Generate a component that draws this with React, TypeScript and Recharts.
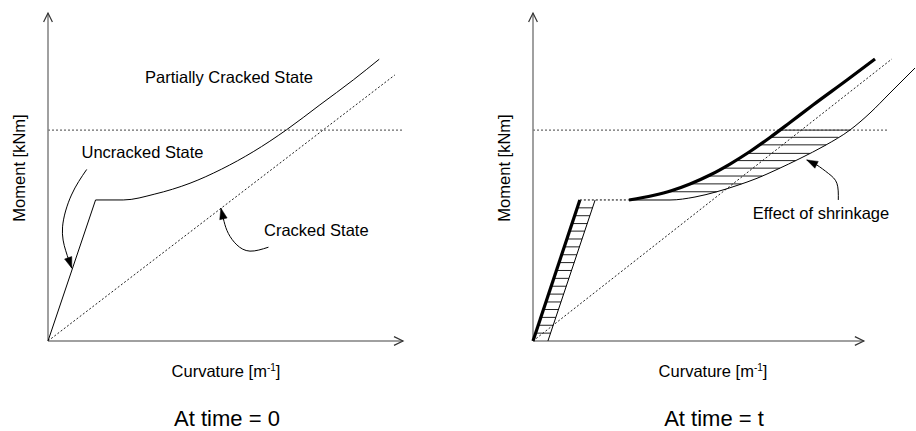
import React from 'react';
import { ComposedChart, Line, XAxis, YAxis } from 'recharts';

type P = { x: number; y: number };

// ---------- Left panel: At time = 0 ----------
const leftYAxisLine: P[] = [{ x: 0, y: 0 }, { x: 0, y: 100 }];
const leftXAxisLine: P[] = [{ x: 0, y: 0 }, { x: 100, y: 0 }];
const leftCrackingMoment: P[] = [{ x: 0, y: 64.3 }, { x: 100, y: 64.3 }];
const leftCracked: P[] = [{ x: 0, y: 0 }, { x: 97.7, y: 81.1 }];
const leftUncracked: P[] = [{ x: 0, y: 0 }, { x: 13.4, y: 43.0 }];
const leftPartiallyCracked: P[] = [
  { x: 13.4, y: 43.0 }, { x: 21.2, y: 43.0 }, { x: 30.1, y: 44.8 }, { x: 40.0, y: 48.1 },
  { x: 48.9, y: 52.4 }, { x: 57.8, y: 57.7 }, { x: 67.2, y: 64.4 }, { x: 76.6, y: 72.0 },
  { x: 86.0, y: 79.6 }, { x: 93.3, y: 85.9 },
];
const leftUncrackedArrow: P[] = [
  { x: 10.9, y: 52.3 }, { x: 6.6, y: 44.5 }, { x: 4.1, y: 34.8 }, { x: 5.0, y: 27.5 }, { x: 6.7, y: 22.2 },
];
const leftCrackedArrow: P[] = [
  { x: 62.1, y: 28.6 }, { x: 56.9, y: 27.4 }, { x: 53.2, y: 29.3 }, { x: 50.8, y: 32.8 },
  { x: 49.6, y: 36.4 }, { x: 48.7, y: 40.5 },
];

// ---------- Right panel: At time = t ----------
const rightYAxisLine: P[] = [{ x: 0, y: 0 }, { x: 0, y: 100 }];
const rightXAxisLine: P[] = [{ x: 0, y: 0 }, { x: 93.2, y: 0 }];
const rightCrackingMoment: P[] = [{ x: 0, y: 64.3 }, { x: 100, y: 64.3 }];
const rightCracked: P[] = [{ x: 0, y: 0 }, { x: 101.1, y: 86.0 }];
const rightUncrackedShrink: P[] = [{ x: 0, y: 0 }, { x: 13.2, y: 43.0 }];
const rightUncrackedNoShrink: P[] = [{ x: 4.2, y: 0 }, { x: 17.5, y: 43.0 }];
const rightCrackingLink: P[] = [{ x: 13.2, y: 43.0 }, { x: 27.0, y: 43.0 }];
const rightPartialShrink: P[] = [
  { x: 27.04, y: 42.99 }, { x: 33.8, y: 44.36 }, { x: 39.15, y: 45.88 }, { x: 44.23, y: 47.87 },
  { x: 49.86, y: 50.61 }, { x: 55.49, y: 53.96 }, { x: 61.13, y: 57.77 }, { x: 66.76, y: 62.04 },
  { x: 72.39, y: 66.62 }, { x: 78.87, y: 71.95 }, { x: 88.45, y: 79.57 }, { x: 96.34, y: 85.98 },
];
const rightPartialNoShrink: P[] = [
  { x: 27.04, y: 42.99 }, { x: 38.59, y: 42.99 }, { x: 45.63, y: 43.9 }, { x: 51.83, y: 45.52 },
  { x: 57.46, y: 47.41 }, { x: 63.1, y: 49.6 }, { x: 68.73, y: 52.29 }, { x: 75.21, y: 55.64 },
  { x: 82.25, y: 59.6 }, { x: 89.3, y: 64.33 }, { x: 94.93, y: 69.51 }, { x: 100.56, y: 75.61 },
  { x: 107.61, y: 83.23 },
];
const rightShrinkArrow: P[] = [
  { x: 86.0, y: 43.0 }, { x: 85.6, y: 48.1 }, { x: 83.2, y: 51.1 }, { x: 79.9, y: 53.7 }, { x: 77.1, y: 55.2 },
];
const lowerHatchLevels: number[] = [
  2.4, 4.8, 7.2, 9.6, 11.9, 14.3, 16.7, 19.1, 21.5, 23.9, 26.3, 28.7, 31.1, 33.5, 35.8, 38.2, 40.6,
];
const upperHatchLevels: number[] = [45.5, 47.9, 50.3, 52.7, 55.0, 57.2, 59.8, 62.1, 64.3];

// ---------- Texts ----------
const yTitle = 'Moment [kNm]';
const xTitleMain = 'Curvature [m';
const xTitleSup = '-1';
const leftCaption = 'At time = 0';
const rightCaption = 'At time = t';
const labelPartial = 'Partially Cracked State';
const labelUncracked = 'Uncracked State';
const labelCracked = 'Cracked State';
const labelShrink = 'Effect of shrinkage';

// ---------- layout ----------
const PANEL_W = 458;
const H = 431;
const PX_PER_X = 3.55;
const MARGIN_L = { top: 13, right: 0, bottom: 90, left: 48 };
const MARGIN_R = { top: 13, right: 0, bottom: 90, left: 75 };
const XMAX_L = (PANEL_W - MARGIN_L.left - MARGIN_L.right) / PX_PER_X;
const XMAX_R = (PANEL_W - MARGIN_R.left - MARGIN_R.right) / PX_PER_X;
const FONT = "'Liberation Sans', Arial, sans-serif";

function xAt(curve: P[], y: number): number {
  for (let i = 0; i < curve.length - 1; i++) {
    const a = curve[i];
    const b = curve[i + 1];
    if ((y >= a.y && y <= b.y) || (y <= a.y && y >= b.y)) {
      if (b.y === a.y) continue;
      return a.x + ((y - a.y) * (b.x - a.x)) / (b.y - a.y);
    }
  }
  return NaN;
}

function tip(kind: 'filled' | 'open', count: number, len: number, half: number, color: string, fallback: [number, number]) {
  return (props: any) => {
    const { index, cx, cy, points } = props;
    const key = `tip-${index}`;
    if (index !== count - 1 || cx == null || cy == null) return <g key={key} />;
    let ux = fallback[0];
    let uy = fallback[1];
    if (points && points.length >= 2) {
      const prev = points[points.length - 2];
      const dx = cx - prev.x;
      const dy = cy - prev.y;
      const d = Math.hypot(dx, dy) || 1;
      ux = dx / d;
      uy = dy / d;
    }
    const bx = cx - ux * len;
    const by = cy - uy * len;
    const px = -uy * half;
    const py = ux * half;
    if (kind === 'filled') {
      return (
        <polygon key={key} points={`${cx},${cy} ${bx + px},${by + py} ${bx - px},${by - py}`} fill={color} stroke={color} strokeWidth={0.5} />
      );
    }
    return (
      <polyline key={key} points={`${bx + px},${by + py} ${cx},${cy} ${bx - px},${by - py}`} fill="none" stroke={color} strokeWidth={1.2} />
    );
  };
}

const common = { dataKey: 'y', isAnimationActive: false, activeDot: false as const, legendType: 'none' as const };

function hatchLines(levels: number[], leftCurve: P[], rightCurve: P[], prefix: string) {
  return levels.map((lv) => {
    const xl = xAt(leftCurve, lv);
    const xr = xAt(rightCurve, lv);
    const seg: P[] = [{ x: xl, y: lv }, { x: xr, y: lv }];
    return (
      <Line key={`${prefix}-${lv}`} {...common} data={seg} type="linear" stroke="#222" strokeWidth={1} dot={false} />
    );
  });
}

function LeftChart() {
  return (
    <ComposedChart width={PANEL_W} height={H} margin={MARGIN_L}>
      <XAxis dataKey="x" type="number" domain={[0, XMAX_L]} hide />
      <YAxis type="number" domain={[0, 100]} hide />
      <Line {...common} data={leftCrackingMoment} type="linear" stroke="#444" strokeWidth={1} strokeDasharray="2 2" dot={false} />
      <Line {...common} data={leftCracked} type="linear" stroke="#222" strokeWidth={1} strokeDasharray="2 2" dot={false} />
      <Line {...common} data={leftYAxisLine} type="linear" stroke="#808080" strokeWidth={1.5}
        dot={tip('open', leftYAxisLine.length, 9, 4.4, '#333', [0, -1])} />
      <Line {...common} data={leftXAxisLine} type="linear" stroke="#808080" strokeWidth={1.5}
        dot={tip('open', leftXAxisLine.length, 9, 4.4, '#333', [1, 0])} />
      <Line {...common} data={leftUncracked} type="linear" stroke="#000" strokeWidth={1} dot={false} />
      <Line {...common} data={leftPartiallyCracked} type="monotone" stroke="#000" strokeWidth={1} dot={false} />
      <Line {...common} data={leftUncrackedArrow} type="natural" stroke="#000" strokeWidth={1}
        dot={tip('filled', leftUncrackedArrow.length, 11, 3.8, '#000', [0.3, 1])} />
      <Line {...common} data={leftCrackedArrow} type="natural" stroke="#000" strokeWidth={1}
        dot={tip('filled', leftCrackedArrow.length, 11, 3.8, '#000', [-0.1, -1])} />
    </ComposedChart>
  );
}

function RightChart() {
  return (
    <ComposedChart width={PANEL_W} height={H} margin={MARGIN_R}>
      <XAxis dataKey="x" type="number" domain={[0, XMAX_R]} hide />
      <YAxis type="number" domain={[0, 100]} hide />
      {hatchLines(lowerHatchLevels, rightUncrackedShrink, rightUncrackedNoShrink, 'lh')}
      {hatchLines(upperHatchLevels, rightPartialShrink, rightPartialNoShrink, 'uh')}
      <Line {...common} data={rightCrackingMoment} type="linear" stroke="#444" strokeWidth={1} strokeDasharray="2 2" dot={false} />
      <Line {...common} data={rightCracked} type="linear" stroke="#222" strokeWidth={1} strokeDasharray="2 2" dot={false} />
      <Line {...common} data={rightCrackingLink} type="linear" stroke="#000" strokeWidth={1} strokeDasharray="2 2" dot={false} />
      <Line {...common} data={rightYAxisLine} type="linear" stroke="#808080" strokeWidth={1.5}
        dot={tip('open', rightYAxisLine.length, 9, 4.4, '#333', [0, -1])} />
      <Line {...common} data={rightXAxisLine} type="linear" stroke="#808080" strokeWidth={1.5}
        dot={tip('open', rightXAxisLine.length, 9, 4.4, '#333', [1, 0])} />
      <Line {...common} data={rightUncrackedNoShrink} type="linear" stroke="#000" strokeWidth={1} dot={false} />
      <Line {...common} data={rightPartialNoShrink} type="monotone" stroke="#000" strokeWidth={1} dot={false} />
      <Line {...common} data={rightUncrackedShrink} type="linear" stroke="#000" strokeWidth={3.2} dot={false} />
      <Line {...common} data={rightPartialShrink} type="monotone" stroke="#000" strokeWidth={3.2} dot={false} />
      <Line {...common} data={rightShrinkArrow} type="natural" stroke="#000" strokeWidth={1}
        dot={tip('filled', rightShrinkArrow.length, 11, 3.8, '#000', [-0.9, -0.4])} />
    </ComposedChart>
  );
}

function XTitle({ cx, y }: { cx: number; y: number }) {
  return (
    <text x={cx} y={y} textAnchor="middle" fontSize={16.5} fontFamily={FONT} fill="#000">
      {xTitleMain}
      <tspan dy={-6} fontSize={10}>{xTitleSup}</tspan>
      <tspan dy={6}>]</tspan>
    </text>
  );
}

export default function App() {
  return (
    <div style={{ position: 'absolute', left: 0, top: 0, width: 916, height: H, background: '#fff', overflow: 'hidden' }}>
      <div style={{ position: 'absolute', left: 0, top: 0 }}>
        <LeftChart />
      </div>
      <div style={{ position: 'absolute', left: PANEL_W, top: 0 }}>
        <RightChart />
      </div>
      <svg width={916} height={H} style={{ position: 'absolute', left: 0, top: 0, pointerEvents: 'none' }}>
        <text x={25} y={168} transform="rotate(-90 25 168)" textAnchor="middle" fontSize={16.5} fontFamily={FONT}>{yTitle}</text>
        <text x={510} y={168} transform="rotate(-90 510 168)" textAnchor="middle" fontSize={16.5} fontFamily={FONT}>{yTitle}</text>
        <XTitle cx={226} y={377} />
        <XTitle cx={713} y={377} />
        <text x={227} y={426} textAnchor="middle" fontSize={22} fontFamily={FONT}>{leftCaption}</text>
        <text x={714} y={426} textAnchor="middle" fontSize={22} fontFamily={FONT}>{rightCaption}</text>
        <text x={229} y={83} textAnchor="middle" fontSize={16.5} fontFamily={FONT}>{labelPartial}</text>
        <text x={142.5} y={158} textAnchor="middle" fontSize={16.5} fontFamily={FONT}>{labelUncracked}</text>
        <text x={316.3} y={236} textAnchor="middle" fontSize={16.5} fontFamily={FONT}>{labelCracked}</text>
        <text x={821} y={219} textAnchor="middle" fontSize={16.5} fontFamily={FONT}>{labelShrink}</text>
      </svg>
    </div>
  );
}
